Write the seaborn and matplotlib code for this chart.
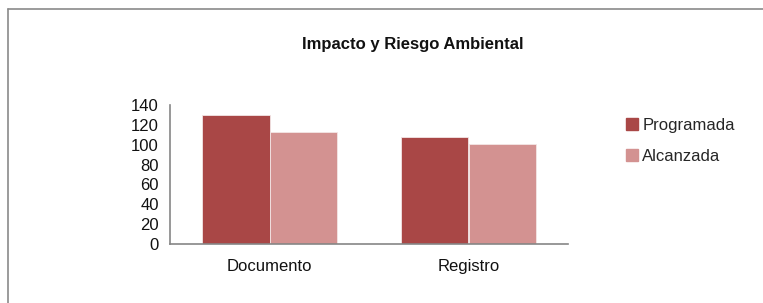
import numpy as np
import pandas as pd
import matplotlib
matplotlib.use('Agg')
import matplotlib.pyplot as plt
import seaborn as sns
from matplotlib.lines import Line2D

categories = ['Documento', 'Registro']
programada = [130, 108]
alcanzada = [113, 101]
series_names = ['Programada', 'Alcanzada']
y_ticks = [0, 20, 40, 60, 80, 100, 120, 140]

COLORS = ['#A94746', '#D39291']

df = pd.DataFrame({
    'categoria': categories * 2,
    'serie': [series_names[0]] * len(categories) + [series_names[1]] * len(categories),
    'valor': programada + alcanzada,
})

sns.set_style('white')
plt.rcParams['font.family'] = ['Liberation Sans', 'DejaVu Sans']

fig = plt.figure(figsize=(7.63, 3.03), dpi=100)
ax = fig.add_axes([170 / 763, 1 - 244 / 303, (568 - 170) / 763, (244 - 105) / 303])

sns.barplot(data=df, x='categoria', y='valor', hue='serie', palette=COLORS,
            saturation=1, width=0.675, gap=0, edgecolor='#f3e6e6', linewidth=0.6,
            ax=ax, legend=False)

ax.set_xlim(-0.5, 1.5)
ax.set_ylim(0, 140)
ax.set_yticks(y_ticks)
ax.set_xlabel('')
ax.set_ylabel('')

# axis styling
for side in ['top', 'right']:
    ax.spines[side].set_visible(False)
for side in ['left', 'bottom']:
    ax.spines[side].set_color('#868686')
    ax.spines[side].set_linewidth(1.2)

ax.set_xticks([-0.5, 0.5, 1.5], minor=True)
ax.tick_params(axis='x', which='major', length=0, labelsize=12, pad=11, labelcolor='#111111')
ax.tick_params(axis='x', which='minor', length=5, width=1, color='#868686', direction='out')
ax.tick_params(axis='y', length=5, width=1, color='#868686', direction='out',
               labelsize=12, labelcolor='#111111', pad=3)

fig.text(413 / 763, 1 - 44 / 303, 'Impacto y Riesgo Ambiental', ha='center', va='center',
         fontsize=12, fontweight='bold', color='#111111')

handles = [Line2D([], [], marker='s', linestyle='none', markersize=8,
                  markerfacecolor=c, markeredgecolor=c) for c in COLORS]
fig.legend(handles, series_names, loc='upper left', bbox_to_anchor=(624 / 763, 1 - 118 / 303),
           frameon=False, fontsize=12, handletextpad=0.1, handlelength=1.0,
           labelspacing=0.95, borderaxespad=0, borderpad=0)

# outer chart border (left and top edges visible)
fig.add_artist(Line2D([8 / 763, 8 / 763], [0, 1 - 9 / 303], transform=fig.transFigure,
                      color='#8a8a8a', linewidth=1.2))
fig.add_artist(Line2D([8 / 763, 1], [1 - 9 / 303, 1 - 9 / 303], transform=fig.transFigure,
                      color='#8a8a8a', linewidth=1.2))

plt.savefig('out.png', dpi=100, facecolor='white')
plt.close()
